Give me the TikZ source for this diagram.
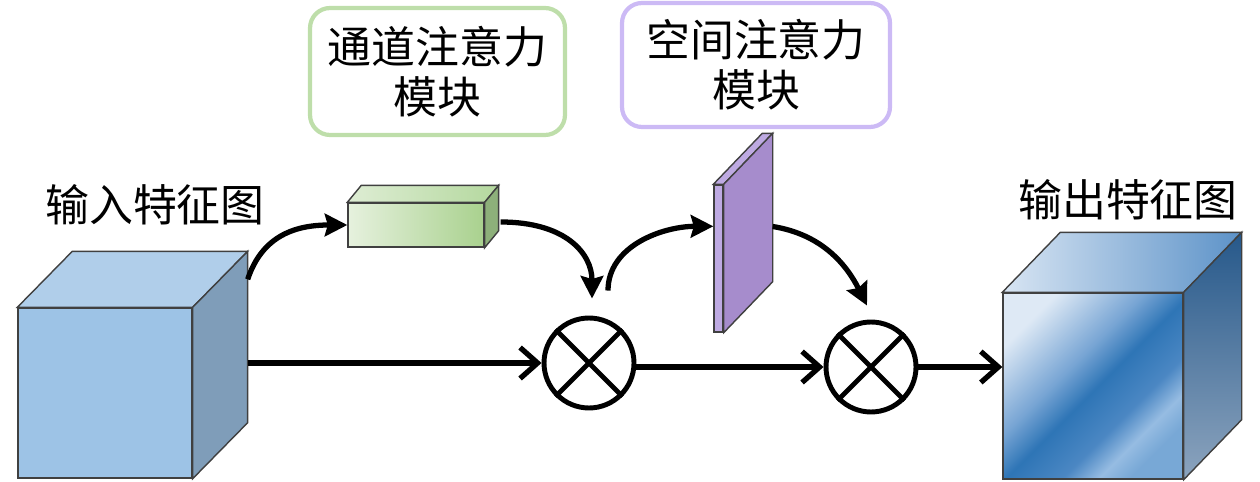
\documentclass[tikz,border=0pt]{standalone}
\usepackage{fontspec}
\newfontfamily\cjk{Noto Sans CJK SC}
\usetikzlibrary{%
	calc,%
	arrows.meta,%
	shapes
}
\definecolor{inFront}{RGB}{157,195,230}
\definecolor{inTop}{RGB}{176,206,234}
\definecolor{inSide}{RGB}{127,157,185}
\definecolor{gL}{RGB}{230,241,222}
\definecolor{gR}{RGB}{169,209,142}
\definecolor{gTL}{RGB}{222,237,212}
\definecolor{gTR}{RGB}{180,216,158}
\definecolor{gSide}{RGB}{141,176,122}
\definecolor{gBorder}{RGB}{190,222,170}
\definecolor{pFront}{RGB}{190,170,226}
\definecolor{pSide}{RGB}{166,140,204}
\definecolor{pBorder}{RGB}{204,186,245}
\definecolor{ofA}{RGB}{222,233,245}
\definecolor{ofB}{RGB}{120,165,212}
\definecolor{ofC}{RGB}{46,117,182}
\definecolor{ofD}{RGB}{75,135,195}
\definecolor{ofE}{RGB}{150,188,226}
\definecolor{ofF}{RGB}{120,168,214}
\definecolor{otL}{RGB}{216,229,243}
\definecolor{otR}{RGB}{92,146,200}
\definecolor{osT}{RGB}{38,88,138}
\definecolor{osM}{RGB}{78,118,160}
\definecolor{osB}{RGB}{140,164,190}
\pgfdeclarehorizontalshading{outfront}{100bp}{color(0bp)=(ofA); color(25bp)=(ofA); color(42bp)=(ofB); color(51bp)=(ofC); color(62bp)=(ofD); color(69bp)=(ofE); color(75bp)=(ofF); color(100bp)=(ofF)}

\begin{document}
\begin{tikzpicture}[x=0.02cm,y=-0.02cm,
		face/.style={draw=black!75,line width=0.8pt,inner sep=0pt},
		label/.style={font=\cjk\fontsize{25}{28.5}\selectfont,inner sep=0pt},
		modbox/.style={rounded corners=0.4cm,line width=2.4pt,align=center,
			font=\cjk\fontsize{25}{28.5}\selectfont},
		flow/.style={line width=3pt,-{Straight Barb[length=0.35cm,width=0.62cm]}},
		bent/.style={line width=3pt,-{Stealth[length=0.45cm,width=0.45cm,inset=0.06cm]}},
		mult/.style={circle,draw,line width=2.8pt,minimum size=1.8cm,inner sep=0pt}]
	\useasboundingbox (0,0) rectangle (1260,482);
	
	% Input feature map
	\node[face,fill=inFront,minimum width=3.48cm,minimum height=3.4cm] (in) at (105,393) {};
	\draw[face,fill=inTop] (in.north west) -- ++(55,-56) -- ($(in.north east)+(55,-56)$) -- (in.north east) -- cycle;
	\draw[face,fill=inSide] (in.north east) -- ++(55,-56) -- ($(in.south east)+(55,-56)$) -- (in.south east) -- cycle;
	\node[label] (inlab) at (155,205) {输入特征图};
	
	% Channel attention block
	\node[face,left color=gL,right color=gR,minimum width=2.72cm,minimum height=0.88cm] (cha) at (416,225) {};
	\draw[face,left color=gTL,right color=gTR] (cha.north west) -- ++(14,-17) -- ($(cha.north east)+(14,-17)$) -- (cha.north east) -- cycle;
	\draw[face,fill=gSide] (cha.north east) -- ++(14,-17) -- ($(cha.south east)+(14,-17)$) -- (cha.south east) -- cycle;
	\node[modbox,draw=gBorder,minimum width=5.1cm,minimum height=2.54cm] (chabox) at (437.5,71.5) {通道注意力\\模块};
	
	% Spatial attention block
	\node[face,fill=pFront,minimum width=0.18cm,minimum height=2.94cm] (spa) at (718.5,258.5) {};
	\draw[face,fill=pFront] (spa.north west) -- ++(49,-51) -- ($(spa.north east)+(49,-51)$) -- (spa.north east) -- cycle;
	\draw[face,fill=pSide] (spa.north east) -- ++(49,-51) -- ($(spa.south east)+(49,-51)$) -- (spa.south east) -- cycle;
	\node[modbox,draw=pBorder,minimum width=5.36cm,minimum height=2.48cm] (spabox) at (756,65) {空间注意力\\模块};
	
	% Output feature map
	\node[face,shade,shading=outfront,shading angle=-45,minimum width=3.6cm,minimum height=3.72cm] (out) at (1093,386) {};
	\draw[face,left color=otL,right color=otR] (out.north west) -- ++(58,-60) -- ($(out.north east)+(58,-60)$) -- (out.north east) -- cycle;
	\draw[face,top color=osT,middle color=osM,bottom color=osB] (out.north east) -- ++(58,-60) -- ($(out.south east)+(58,-60)$) -- (out.south east) -- cycle;
	\node[label] (outlab) at (1128,200) {输出特征图};
	
	% Multiplications
	\node[mult] (m1) at (589,363) {};
	\draw[line width=2.8pt] (m1.45) -- (m1.225) (m1.135) -- (m1.315);
	\node[mult] (m2) at (871,367) {};
	\draw[line width=2.8pt] (m2.45) -- (m2.225) (m2.135) -- (m2.315);
	
	% Connectors
	\coordinate (inT) at ($(in.north east)+(55,-28)$);
	\coordinate (inM) at ($(in.east)+(55,-30)$);
	\coordinate (chaOut) at ($(cha.east)+(16,-3)$);
	\coordinate (m1In) at ($(m1.north)+(3,-17)$);
	\coordinate (m1Up) at ($(m1.north)+(19,-25)$);
	\coordinate (spaIn) at ($(spa.north west)+(0,42)$);
	\coordinate (spaOut) at ($(spa.east)+(49,-32)$);
	\coordinate (m2In) at ($(m2.north)+(-4,-14)$);
	\draw[bent] (inT) .. controls +(15,-45) and +(-50,0) .. (cha.west);
	\draw[bent] (chaOut) .. controls +(65,0) and +(0,-45) .. (m1In);
	\draw[bent] (m1Up) .. controls +(0,-45) and +(-50,0) .. (spaIn);
	\draw[bent] (spaOut) .. controls +(50,8) and +(-20,-40) .. (m2In);
	\draw[flow] (inM) -- (m1.west);
	\draw[flow] (m2.west -| m1.east) -- (m2.west);
	\draw[flow] (m2.east) -- (m2.east -| out.west);
\end{tikzpicture}
\end{document}
